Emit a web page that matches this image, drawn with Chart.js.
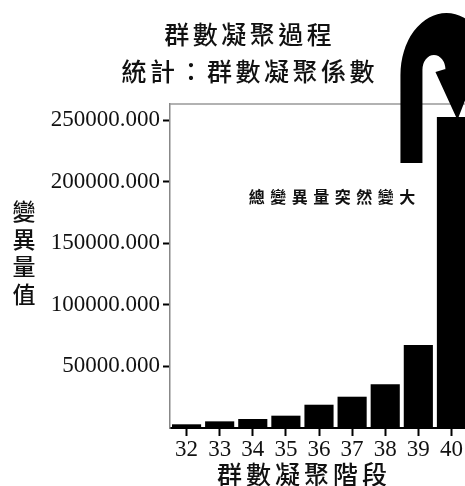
<!DOCTYPE html>
<html>
<head>
<meta charset="utf-8">
<script src="https://cdn.jsdelivr.net/npm/chart.js@4"></script>
<style>
html,body{margin:0;padding:0;background:#fff;overflow:hidden;}
#wrap{width:468px;height:486px;position:relative;}
</style>
</head>
<body>
<div id="wrap"><canvas id="c"></canvas></div>
<script>
const titleLines = ['群數凝聚過程', '統計：群數凝聚係數'];
const xTitle = '群數凝聚階段';
const yTitleChars = ['變', '異', '量', '值'];
const noteText = '總變異量突然變大';
const categories = ['32', '33', '34', '35', '36', '37', '38', '39', '40'];
const variance = [3000, 5400, 7300, 10000, 18900, 25400, 35500, 67400, 252500];
const yTickValues = [50000, 100000, 150000, 200000, 250000];
const yTickLabels = ['50000.000', '100000.000', '150000.000', '200000.000', '250000.000'];

const CJK = '"Noto Sans CJK TC", "Noto Sans CJK SC", sans-serif';
const SERIF = '"Liberation Serif", "DejaVu Serif", serif';

function spacedText(ctx, text, x, y, spacing) {
  ctx.letterSpacing = spacing + 'px';
  ctx.fillText(text, x + spacing / 2, y);
  ctx.letterSpacing = '0px';
}

const decor = {
  id: 'decor',
  afterDraw(chart) {
    const ctx = chart.ctx;
    const a = chart.chartArea;
    ctx.save();
    // top border of plot
    ctx.strokeStyle = '#999';
    ctx.lineWidth = 1.5;
    ctx.beginPath();
    ctx.moveTo(a.left, a.top);
    ctx.lineTo(a.right, a.top);
    ctx.stroke();

    ctx.fillStyle = '#111';
    ctx.textAlign = 'center';
    ctx.textBaseline = 'middle';
    // main title
    ctx.font = '500 25px ' + CJK;
    spacedText(ctx, titleLines[0], 248, 34, 3.5);
    spacedText(ctx, titleLines[1], 248, 71, 3.5);
    // y title stacked
    ctx.font = '500 23px ' + CJK;
    const ys = [211, 239, 266, 294];
    yTitleChars.forEach((ch, i) => ctx.fillText(ch, 24, ys[i]));
    // x title
    ctx.font = '500 25px ' + CJK;
    spacedText(ctx, xTitle, 302, 474, 4);
    // note
    ctx.font = 'bold 16px ' + CJK;
    spacedText(ctx, noteText, 332, 197, 5.5);

    // arrow anchored to the last bar
    const meta = chart.getDatasetMeta(0);
    const bar = meta.data[meta.data.length - 1];
    const ox = bar.x, oy = bar.y;
    const P = (dx, dy) => [ox + dx, oy + dy];
    ctx.fillStyle = '#000';
    ctx.beginPath();
    let p = P(-51, 46); ctx.moveTo(p[0], p[1]);
    p = P(-51, -42); ctx.lineTo(p[0], p[1]);
    p = P(-5, -42); ctx.ellipse(p[0], p[1], 46, 62, 0, Math.PI, 2 * Math.PI, false);
    p = P(27, -51); ctx.lineTo(p[0], p[1]);
    p = P(6, 3); ctx.lineTo(p[0], p[1]);
    p = P(-16, -45); ctx.lineTo(p[0], p[1]);
    p = P(-6, -48); ctx.lineTo(p[0], p[1]);
    p = P(-17.5, -47); ctx.ellipse(p[0], p[1], 11.5, 15, 0, 0, Math.PI, true);
    p = P(-29, 46); ctx.lineTo(p[0], p[1]);
    ctx.closePath();
    ctx.fill();
    ctx.restore();
  }
};

new Chart(document.getElementById('c'), {
  type: 'bar',
  data: {
    labels: categories,
    datasets: [{
      data: variance,
      backgroundColor: '#000',
      borderWidth: 0,
      barPercentage: 0.88,
      categoryPercentage: 1.0
    }]
  },
  options: {
    responsive: true,
    maintainAspectRatio: false,
    animation: false,
    devicePixelRatio: 1,
    layout: { padding: { top: 104, left: 28, right: 0, bottom: 0 } },
    plugins: {
      legend: { display: false },
      title: { display: false },
      tooltip: { enabled: false }
    },
    scales: {
      x: {
        afterFit(s) { s.height = 58; },
        grid: { display: true, drawOnChartArea: false, drawTicks: true, tickLength: 8, tickWidth: 2, tickColor: '#000', offset: false },
        border: { display: true, color: '#000', width: 2 },
        ticks: { color: '#111', font: { family: SERIF, size: 23 }, padding: 0, maxRotation: 0 }
      },
      y: {
        min: 0,
        max: 263000,
        afterFit(s) { s.width = 142; },
        afterBuildTicks(s) { s.ticks = yTickValues.map(v => ({ value: v })); },
        grid: { display: true, drawOnChartArea: false, drawTicks: true, tickLength: 7, tickWidth: 2, tickColor: '#000' },
        border: { display: true, color: '#888', width: 1.5 },
        ticks: {
          color: '#111',
          font: { family: SERIF, size: 23 },
          padding: 3,
          callback(v) { const i = yTickValues.indexOf(v); return i >= 0 ? yTickLabels[i] : ''; }
        }
      }
    }
  },
  plugins: [decor]
});
</script>
</body>
</html>
